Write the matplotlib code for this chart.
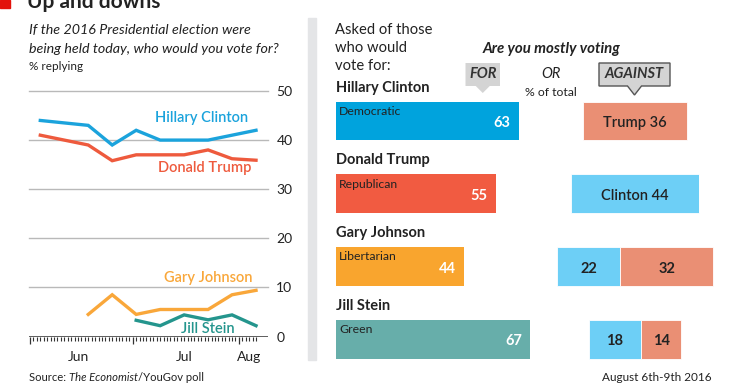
import numpy as np
import pandas as pd
import matplotlib
matplotlib.use('Agg')
import matplotlib.pyplot as plt
import matplotlib.dates as mdates
from matplotlib.transforms import Affine2D, blended_transform_factory
from matplotlib.patches import Rectangle, Polygon

plt.rcParams['font.family'] = ['Lato', 'DejaVu Sans']

# left chart: weekly polls, % replying
poll_dates = ['2016-06-04', '2016-06-18', '2016-06-25', '2016-07-02', '2016-07-09',
              '2016-07-16', '2016-07-23', '2016-07-30', '2016-08-06']
clinton = [44, 43, 39, 42, 40, 40, 40, 41, 42]
trump = [41, 39, 35.8, 37, 37, 37, 38, 36.2, 35.9]
johnson = [np.nan, 4.5, 8.5, 4.5, 5.5, 5.5, 5.5, 8.5, 9.4]
stein = [np.nan, np.nan, np.nan, 3.3, 2.2, 4.4, 3.4, 4.4, 2.2]
y_ticks = [0, 10, 20, 30, 40, 50]
month_labels = ['Jun', 'Jul', 'Aug']
month_label_dates = ['2016-06-15', '2016-07-16', '2016-08-04']

# right chart: mostly voting for / against, % of total
names = ['Hillary Clinton', 'Donald Trump', 'Gary Johnson', 'Jill Stein']
parties = ['Democratic', 'Republican', 'Libertarian', 'Green']
voting_for = [63, 55, 44, 67]
against_clinton = [0, 44, 22, 18]
against_trump = [36, 0, 32, 14]

c_clinton = '#1ba3dc'
c_trump = '#ee5a3d'
c_johnson = '#f9a73a'
c_stein = '#24958d'
party_cols = ['#00a3dd', '#f15b41', '#f9a52e', '#67aeaa']
c_ag_clinton = '#6dcff6'
c_ag_trump = '#ea8f74'
dark = '#222222'

W, H = 740, 389
fig = plt.figure(figsize=(W / 100, H / 100), dpi=100)
PX = Affine2D().scale(1 / W, -1 / H).translate(0, 1) + fig.transFigure

# ---- header
fig.patches.append(Rectangle((0, 0), 10, 8, transform=PX, color='#e3120b', figure=fig))
fig.text(27, 8, 'Up and downs', transform=PX, fontsize=15, fontweight='bold',
         color=dark, va='baseline')
fig.text(29, 30, 'If the 2016 Presidential election were', transform=PX, fontsize=10.3,
         style='italic', color=dark, va='center')
fig.text(29, 49, 'being held today, who would you vote for?', transform=PX, fontsize=10.3,
         style='italic', color=dark, va='center')
fig.text(29, 67, '% replying', transform=PX, fontsize=8.5, color=dark, va='center')

# ---- left line chart
ax = fig.add_axes([29 / W, (H - 336.5) / H, 239 / W, 245.5 / H])
dates = pd.to_datetime(poll_dates)
ax.plot(dates, clinton, color=c_clinton, lw=2.4, solid_joinstyle='miter', clip_on=False)
ax.plot(dates, trump, color=c_trump, lw=2.4, solid_joinstyle='miter', clip_on=False)
ax.plot(dates, johnson, color=c_johnson, lw=2.4, solid_joinstyle='miter', clip_on=False)
ax.plot(dates, stein, color=c_stein, lw=2.4, solid_joinstyle='miter', clip_on=False)

d0 = mdates.date2num(pd.Timestamp('2016-06-01'))
ax.set_xlim(d0 - 0.3, d0 + 69.5)
ax.set_ylim(0, 50)
for v in y_ticks[1:]:
    ax.axhline(v, color='#b9b9b9', lw=1, zorder=0, clip_on=False)
ax.axhline(0, color='#333333', lw=1.1, zorder=3)
for s in ax.spines.values():
    s.set_visible(False)
ax.yaxis.tick_right()
ax.set_yticks(y_ticks)
ax.tick_params(axis='y', length=0, pad=6, labelsize=10, labelcolor=dark)
ax.xaxis.set_major_locator(mdates.MonthLocator())
ax.xaxis.set_minor_locator(mdates.DayLocator())
ax.xaxis.set_major_formatter(plt.NullFormatter())
ax.tick_params(axis='x', which='major', length=5, width=0.9, color='#333333')
ax.tick_params(axis='x', which='minor', length=3.2, width=0.8, color='#333333')
ax.set_xticks([t for t in ax.get_xticks(minor=True) if t <= d0 + 66], minor=True)
bt = blended_transform_factory(ax.transData, PX)
for lab, d in zip(month_labels, pd.to_datetime(month_label_dates)):
    ax.text(d, 357, lab, transform=bt, ha='center', va='center', fontsize=10, color=dark)

ax.text(pd.Timestamp('2016-07-21'), 44.4, 'Hillary Clinton', color=c_clinton, fontsize=10.5,
        fontweight='semibold', ha='center', va='center')
ax.text(pd.Timestamp('2016-07-22'), 34.4, 'Donald Trump', color=c_trump, fontsize=10.5,
        fontweight='semibold', ha='center', va='center')
ax.text(pd.Timestamp('2016-07-23'), 11.9, 'Gary Johnson', color=c_johnson, fontsize=10.5,
        fontweight='semibold', ha='center', va='center')
ax.text(pd.Timestamp('2016-07-23'), 1.5, 'Jill Stein', color=c_stein, fontsize=10.5,
        fontweight='semibold', ha='center', va='center')

# separator
fig.patches.append(Rectangle((308, 18), 8, 342, transform=PX, color='#e4e5e7', figure=fig))

# ---- right panel
for i, t in enumerate(['Asked of those', 'who would', 'vote for:']):
    fig.text(335, 30 + 18 * i, t, transform=PX, fontsize=10.6, color=dark, va='center')
fig.text(551, 49, 'Are you mostly voting', transform=PX, fontsize=10.8, fontweight='bold',
         style='italic', color=dark, ha='center', va='center')
fig.text(551, 74, 'OR', transform=PX, fontsize=10.5, style='italic', color=dark,
         ha='center', va='center')
fig.text(551, 93, '% of total', transform=PX, fontsize=8.8, color=dark,
         ha='center', va='center')

# callout boxes
def callout(x0, x1, y0, y1, tip, text, edge):
    cx = (x0 + x1) / 2
    pts = [(x0, y0), (x1, y0), (x1, y1), (cx + 7, y1), (cx, tip), (cx - 7, y1), (x0, y1)]
    fig.patches.append(Polygon(pts, closed=True, transform=PX, facecolor='#d4d4d4',
                               edgecolor=edge, lw=1 if edge != 'none' else 0, figure=fig))
    fig.text(cx, (y0 + y1) / 2, text, transform=PX, fontsize=10.5, fontweight='bold',
             style='italic', color='#333333', ha='center', va='center')

callout(465.5, 500, 63, 86, 93, 'FOR', 'none')
callout(599, 670, 63, 86, 95, 'AGAINST', '#555555')

ax2 = fig.add_axes([336 / W, (H - 376) / H, 404 / W, 328 / H])
ax2.set_xlim(0, 404 / 2.9)
ax2.set_ylim(3.505, -1.0)
ax2.axis('off')
rows = np.arange(len(names))
bh = 0.53
ax2.barh(rows, voting_for, height=bh, color=party_cols, edgecolor='none')
total = np.array(against_clinton) + np.array(against_trump)
centre = 103.1
left = centre - total / 2
ax2.barh(rows, against_clinton, left=left, height=bh, color=c_ag_clinton,
         edgecolor='white', lw=0.6)
ax2.barh(rows, against_trump, left=left + np.array(against_clinton), height=bh,
         color=c_ag_trump, edgecolor='white', lw=0.6)

for i in rows:
    ax2.text(0, i - 0.455, names[i], fontsize=10.5, fontweight='bold', color=dark,
             ha='left', va='center')
    ax2.text(1.0, i - 0.13, parties[i], fontsize=8.8, color=dark, ha='left', va='center')
    ax2.text(voting_for[i] - 2.8, i + 0.03, str(voting_for[i]), fontsize=10.5,
             fontweight='bold', color='white', ha='right', va='center')
    a_c, a_t = against_clinton[i], against_trump[i]
    if a_c and a_t:
        ax2.text(left[i] + a_c / 2, i + 0.03, str(a_c), fontsize=10.5, fontweight='bold',
                 color=dark, ha='center', va='center')
        ax2.text(left[i] + a_c + a_t / 2, i + 0.03, str(a_t), fontsize=10.5,
                 fontweight='bold', color=dark, ha='center', va='center')
    elif a_c:
        ax2.text(centre, i + 0.03, 'Clinton %d' % a_c, fontsize=10.5, fontweight='semibold',
                 color=dark, ha='center', va='center')
    else:
        ax2.text(centre, i + 0.03, 'Trump %d' % a_t, fontsize=10.5, fontweight='semibold',
                 color=dark, ha='center', va='center')

# ---- footer
t1 = fig.text(29, 378, 'Source: ', transform=PX, fontsize=8.1, color=dark, va='center')
t2 = plt.annotate('The Economist', xy=(1, 0), xycoords=t1, va='bottom', ha='left',
                  fontsize=8.1, style='italic', color=dark, annotation_clip=False)
plt.annotate('/YouGov poll', xy=(1, 0), xycoords=t2, va='bottom', ha='left',
             fontsize=8.1, color=dark, annotation_clip=False)
fig.text(712, 378, 'August 6th-9th 2016', transform=PX, fontsize=8.5, color=dark,
         ha='right', va='center')

fig.savefig('out.png', dpi=100, facecolor='white')
